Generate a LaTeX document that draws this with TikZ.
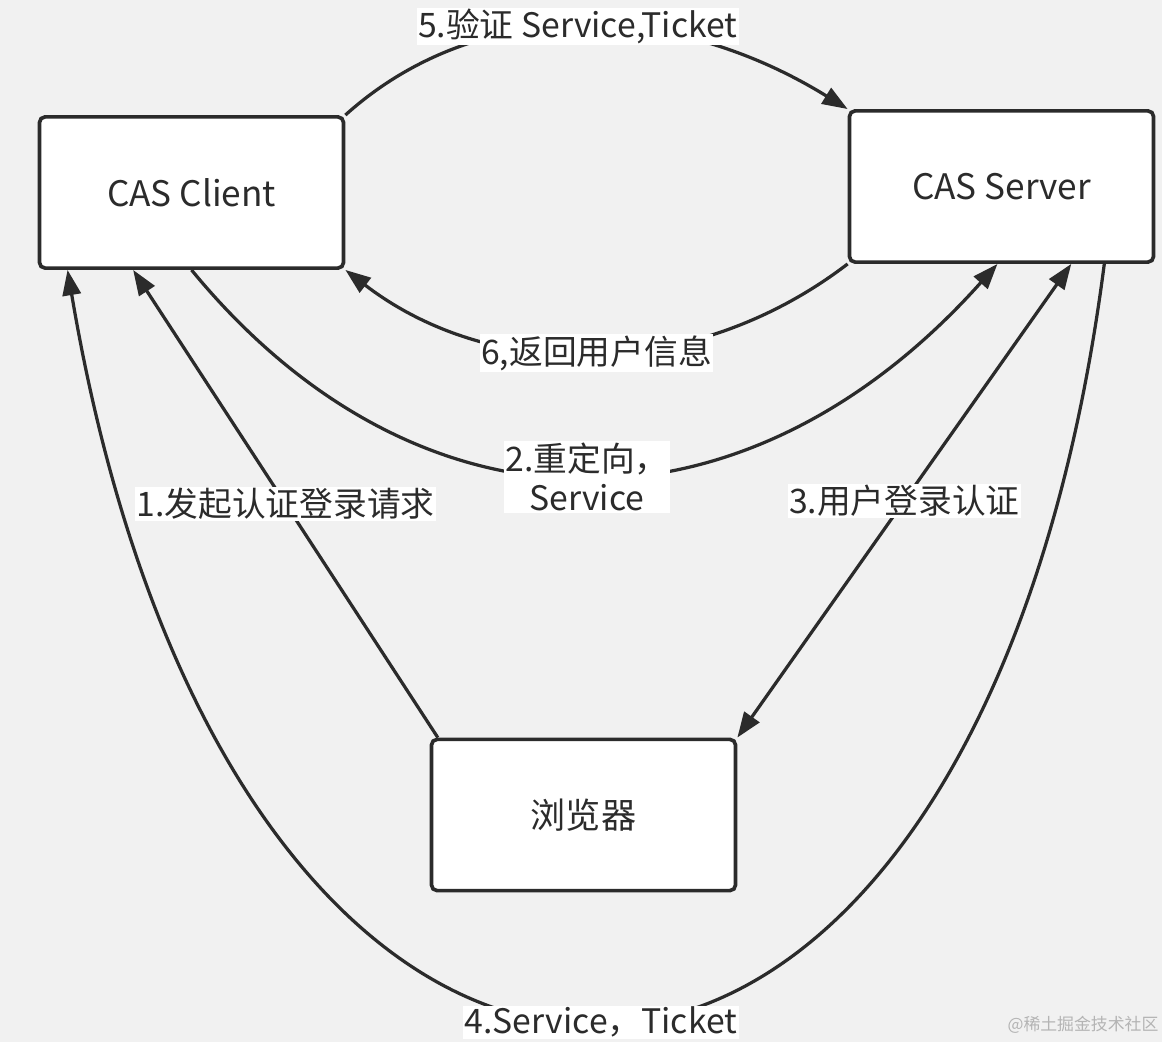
\documentclass[tikz,border=0pt]{standalone}
\usepackage{fontspec}
\setmainfont{Noto Sans CJK SC}
\usetikzlibrary{arrows.meta}
\definecolor{bggray}{HTML}{F1F1F1}
\definecolor{ink}{HTML}{2B2B2B}
\definecolor{wmgray}{HTML}{B4B4B4}

\begin{document}
\begin{tikzpicture}[x=0.025cm, y=0.025cm,
        >={Triangle[length=18pt,width=13pt]},
        box/.style={draw=ink, line width=2.6pt, fill=white, rounded corners=4pt, minimum width=7.6cm, minimum height=3.78cm, text=ink, font=\fontsize{25}{29}\selectfont},
        lbl/.style={fill=white, inner sep=1pt, text=ink, font=\fontsize{24}{28}\selectfont},
        link/.style={draw=ink, line width=2.3pt}]
        \fill[bggray] (0,0) rectangle (1162,1042);
        \useasboundingbox (0,0) rectangle (1162,1042);
        \node[box] (client) at (191.5,849.5) {CAS Client};
        \node[box] (server) at (1001.5,855.5) {CAS Server};
        \node[box] (browser) at (583.5,227) {浏览器};
        % requests from the browser
        \draw[link, ->] (browser.152) -- node[lbl] {1.发起认证登录请求} (client.233);
        \draw[link, <->] (server.312) -- node[lbl] {3.用户登录认证} (browser.north east);
        % client <-> server
        \draw[link, ->] (client.south) .. controls +(230,-280) and +(-250,-280) .. node[lbl, align=center] {2.重定向，\\Service} (server.267);
        \draw[link, ->] (server.323) .. controls +(-130,-1007) and +(170,-1007) .. node[lbl] {4.Service，Ticket} (client.212);
        \draw[link, ->] (client.north east) .. controls +(130,117) and +(-180,111) .. node[lbl] {5.验证 Service,Ticket} (server.north west);
        \draw[link, ->] (server.south west) .. controls +(-150,-115) and +(150,-115) .. node[lbl] {6,返回用户信息} (client.south east);
        \node[text=wmgray, font=\fontsize{12}{14}\selectfont] (mark) at (1083,17) {@稀土掘金技术社区};
\end{tikzpicture}
\end{document}
